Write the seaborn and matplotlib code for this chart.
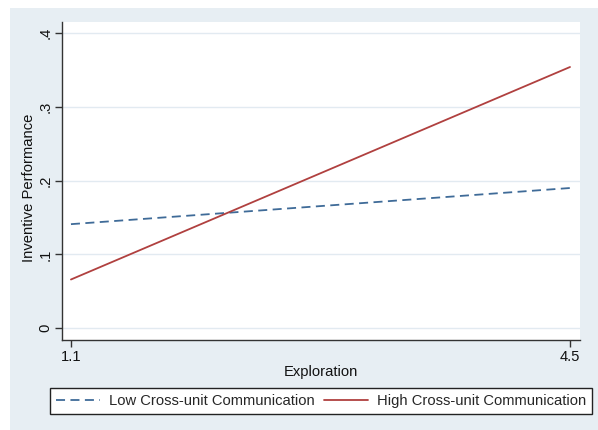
import numpy as np
import pandas as pd
import matplotlib
matplotlib.use("Agg")
import matplotlib.pyplot as plt
import seaborn as sns
from matplotlib.patches import Rectangle

## data
exploration = [1.1, 4.5]
low_comm = [0.141, 0.190]
high_comm = [0.066, 0.354]
series_names = ['Low Cross-unit Communication', 'High Cross-unit Communication']
y_ticks = [0, 0.1, 0.2, 0.3, 0.4]
y_tick_labels = ['0', '.1', '.2', '.3', '.4']
x_ticks = [1.1, 4.5]
x_tick_labels = ['1.1', '4.5']

df = pd.DataFrame({
    'Exploration': exploration * 2,
    'Inventive Performance': low_comm + high_comm,
    'group': [series_names[0]] * 2 + [series_names[1]] * 2,
})

sns.set_theme(style='white')
plt.rcParams['font.family'] = ['Liberation Sans', 'DejaVu Sans']

fs = 10.6
bg = '#e7eef3'
fig = plt.figure(figsize=(5.98, 4.30), dpi=100, facecolor='white')
fig.patches.append(Rectangle((10 / 598, 0), 1 - 10 / 598, 1 - 8 / 430,
                             transform=fig.transFigure, facecolor=bg,
                             edgecolor='none', zorder=-10))

ax = fig.add_axes([62 / 598, 90 / 430, 518 / 598, 318 / 430])
ax.set_facecolor('white')

palette = {series_names[0]: '#3f6b98', series_names[1]: '#b0403f'}
sns.lineplot(data=df, x='Exploration', y='Inventive Performance', hue='group',
             style='group', palette=palette,
             dashes={series_names[0]: (5, 3), series_names[1]: ''},
             linewidth=1.3, ax=ax, legend=False)

ax.set_xlim(1.039, 4.568)
ax.set_ylim(-0.016, 0.415)
ax.set_yticks(y_ticks)
ax.set_yticklabels(y_tick_labels, rotation=90, va='center', fontsize=fs)
ax.set_xticks(x_ticks)
ax.set_xticklabels(x_tick_labels, fontsize=fs)
for y in y_ticks:
    ax.axhline(y, color='#e2eaf1', linewidth=1.0, zorder=0)

for s in ['top', 'right']:
    ax.spines[s].set_visible(False)
for s in ['left', 'bottom']:
    ax.spines[s].set_color('#333333')
    ax.spines[s].set_linewidth(1.0)
ax.tick_params(axis='both', which='both', direction='out', length=5, width=1,
               color='#333333', labelcolor='#111111', pad=2,
               left=True, bottom=True)

ax.set_xlabel('Exploration', fontsize=fs, color='#111111', labelpad=1)
ax.set_ylabel('Inventive Performance', fontsize=fs, color='#111111')
ax.yaxis.set_label_coords(-0.05, 0.48)

handles = [plt.Line2D([], [], color=palette[series_names[0]], linestyle=(0, (5, 3)), linewidth=1.3),
           plt.Line2D([], [], color=palette[series_names[1]], linewidth=1.3)]
leg = fig.legend(handles, series_names, loc='center', bbox_to_anchor=(321 / 598, 1 - 401 / 430),
                 ncol=2, fontsize=fs, frameon=True, fancybox=False, framealpha=1,
                 edgecolor='#222222', handlelength=3.0, columnspacing=0.6,
                 borderpad=0.4, handletextpad=0.6, borderaxespad=0)
leg.get_frame().set_linewidth(1.0)

fig.savefig('out.png', dpi=100, facecolor=fig.get_facecolor())
